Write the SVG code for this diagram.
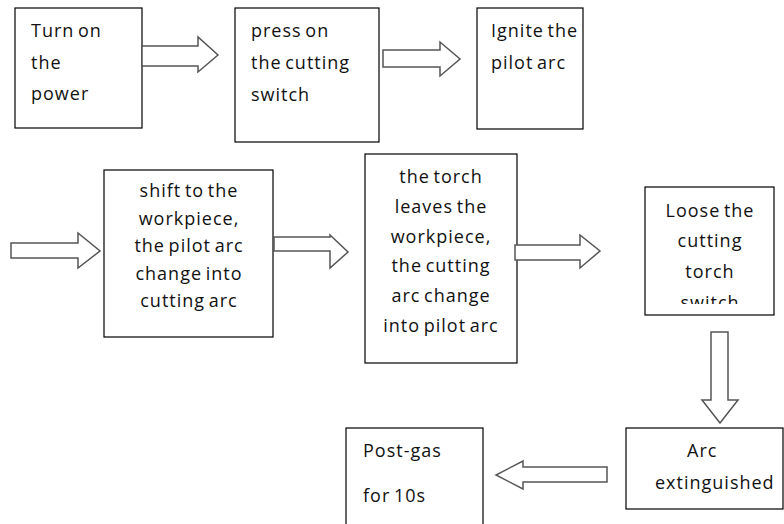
<svg xmlns="http://www.w3.org/2000/svg" width="784" height="524" viewBox="0 0 784 524">
  <style>
    .box { fill: #fff; stroke: #000; stroke-width: 1.2; }
    .arrow { fill: #fff; stroke: #555; stroke-width: 1.5; stroke-linejoin: miter; }
    text { font-family: "Open Sans", "DejaVu Sans", sans-serif; font-size: 18px; fill: #111; letter-spacing: 1px; word-spacing: -2px; }
    .c { text-anchor: middle; }
  </style>
  <defs>
    <clipPath id="clip-loose">
      <rect x="646" y="188" width="127" height="116"/>
    </clipPath>
  </defs>
  <rect width="784" height="524" fill="#fff"/>

  <!-- step boxes -->
  <g id="turn-on-power">
    <rect class="box" x="15" y="8" width="127" height="120"/>
    <text x="31" y="37">Turn on</text>
    <text x="31" y="69">the</text>
    <text x="31" y="100">power</text>
  </g>

  <g id="press-switch">
    <rect class="box" x="235" y="8" width="144" height="134"/>
    <text x="251" y="37">press on</text>
    <text x="251" y="69">the cutting</text>
    <text x="251" y="101">switch</text>
  </g>

  <g id="ignite-pilot">
    <rect class="box" x="477" y="8" width="106" height="121"/>
    <text x="491" y="37">Ignite the</text>
    <text x="491" y="69">pilot arc</text>
  </g>

  <g id="shift-workpiece">
    <rect class="box" x="104" y="170" width="169" height="167"/>
    <text class="c" x="189" y="197">shift to the</text>
    <text class="c" x="189" y="225">workpiece,</text>
    <text class="c" x="189" y="252">the pilot arc</text>
    <text class="c" x="189" y="280">change into</text>
    <text class="c" x="189" y="307">cutting arc</text>
  </g>

  <g id="torch-leaves">
    <rect class="box" x="365" y="154" width="152" height="209"/>
    <text class="c" x="441" y="183">the torch</text>
    <text class="c" x="441" y="213">leaves the</text>
    <text class="c" x="441" y="243">workpiece,</text>
    <text class="c" x="441" y="272">the cutting</text>
    <text class="c" x="441" y="302">arc change</text>
    <text class="c" x="441" y="332">into pilot arc</text>
  </g>

  <g id="loose-switch">
    <rect class="box" x="645" y="187" width="129" height="128"/>
    <g clip-path="url(#clip-loose)">
      <text class="c" x="710" y="217">Loose the</text>
      <text class="c" x="710" y="247">cutting</text>
      <text class="c" x="710" y="278">torch</text>
      <text class="c" x="710" y="309">switch</text>
    </g>
  </g>

  <g id="arc-extinguished">
    <rect class="box" x="626" y="428" width="157" height="81"/>
    <text x="687" y="457">Arc</text>
    <text x="655" y="489">extinguished</text>
  </g>

  <g id="post-gas">
    <rect class="box" x="346" y="428" width="137" height="110"/>
    <text x="363" y="457">Post-gas</text>
    <text x="363" y="502">for 10s</text>
  </g>

  <!-- block arrows between steps -->
  <g id="connectors">
    <path class="arrow" d="M142,46 H198 V37 L218,55 L198,72 V66 H142 Z"/>
    <path class="arrow" d="M383,50 H440 V42 L460,59 L440,76 V67 H383 Z"/>
    <path class="arrow" d="M11,243 H78 V233 L100,251 L78,268 V258 H11 Z"/>
    <path class="arrow" d="M274,237 H330 V235 L348,252 L330,268 V251 H274 Z"/>
    <path class="arrow" d="M515,245 H580 V235 L600,251 L580,268 V260 H515 Z"/>
    <path class="arrow" d="M711,332 H728 V400 H738 L720,423 L702,400 H711 Z"/>
    <path class="arrow" d="M607,467 H523 V461 L496,475 L523,489 V482 H607 Z"/>
  </g>
</svg>
